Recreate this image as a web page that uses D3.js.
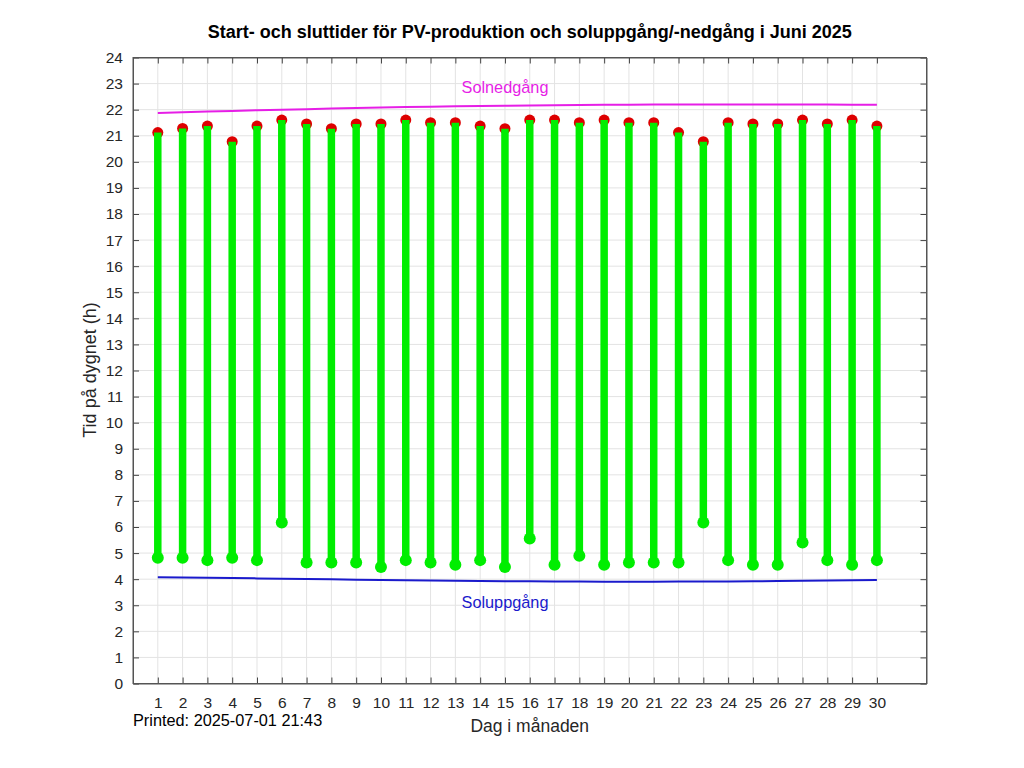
<!DOCTYPE html>
<html><head><meta charset="utf-8">
<script src="https://cdn.jsdelivr.net/npm/d3@7"></script>
<style>
body{margin:0;background:#fff;}
svg{display:block;font-family:"Liberation Sans",Arial,Helvetica,sans-serif;}
</style></head>
<body><svg id="c" width="1024" height="768"></svg>
<script>
const days = d3.range(1, 31);
const startTimes = [4.82,4.82,4.73,4.82,4.73,6.17,4.64,4.64,4.64,4.47,4.73,4.64,4.55,4.73,4.47,5.56,4.55,4.90,4.55,4.64,4.64,4.64,6.17,4.73,4.55,4.55,5.41,4.73,4.55,4.73];
const endTimes = [21.12,21.28,21.37,20.77,21.37,21.60,21.45,21.27,21.45,21.45,21.60,21.50,21.50,21.37,21.27,21.60,21.60,21.50,21.60,21.50,21.50,21.12,20.77,21.50,21.45,21.45,21.60,21.45,21.60,21.37];
const sunset = [21.87,21.90,21.93,21.95,21.98,22.00,22.02,22.04,22.06,22.08,22.10,22.11,22.13,22.14,22.15,22.16,22.17,22.18,22.19,22.19,22.20,22.20,22.20,22.20,22.20,22.20,22.20,22.20,22.19,22.19];
const sunrise = [4.07,4.06,4.05,4.04,4.03,4.02,4.01,4.00,3.98,3.97,3.96,3.95,3.94,3.93,3.92,3.92,3.91,3.91,3.90,3.90,3.90,3.91,3.91,3.91,3.92,3.93,3.94,3.95,3.96,3.97];
const yTicks = d3.range(0, 25);
const title = "Start- och sluttider för PV-produktion och soluppgång/-nedgång i Juni 2025";

const svg = d3.select("#c");
const L = 133, R = 926.5, T = 57.5, B = 683.5;
const x = d3.scaleLinear().domain([0, 32]).range([L, R]);
const y = d3.scaleLinear().domain([0, 24]).range([B, T]);
const FONT = '"Liberation Sans",Arial,sans-serif';

// grid
const g = svg.append("g");
g.selectAll(".vg").data(days).join("line")
  .attr("x1", d => x(d)).attr("x2", d => x(d)).attr("y1", T).attr("y2", B)
  .attr("stroke", "#e3e3e3").attr("stroke-width", 1);
g.selectAll(".hg").data(yTicks).join("line")
  .attr("x1", L).attr("x2", R).attr("y1", d => y(d)).attr("y2", d => y(d))
  .attr("stroke", "#e3e3e3").attr("stroke-width", 1);

// axes
const ax = svg.append("g").attr("transform", `translate(0,${B})`)
  .call(d3.axisBottom(x).tickValues(days).tickSizeInner(-6).tickSizeOuter(0).tickPadding(13));
const ay = svg.append("g").attr("transform", `translate(${L},0)`)
  .call(d3.axisLeft(y).tickValues(yTicks).tickSizeInner(-6).tickSizeOuter(0).tickPadding(10));
const axTop = svg.append("g").attr("transform", `translate(0,${T})`)
  .call(d3.axisTop(x).tickValues(days).tickSizeInner(-6).tickSizeOuter(0).tickFormat(""));
const ayR = svg.append("g").attr("transform", `translate(${R},0)`)
  .call(d3.axisRight(y).tickValues(yTicks).tickSizeInner(-6).tickSizeOuter(0).tickFormat(""));
[ax, ay, axTop, ayR].forEach(a => {
  a.select(".domain").attr("stroke", "#555");
  a.selectAll(".tick line").attr("stroke", "#444");
  a.selectAll("text").attr("fill", "#262626").style("font-size", "15.5px")
    .style("font-family", FONT);
});
ax.selectAll("text").attr("dy", "0.71em");

// frame
svg.append("rect").attr("x", L).attr("y", T).attr("width", R - L).attr("height", B - T)
  .attr("fill", "none").attr("stroke", "#555").attr("stroke-width", 1);

// sun lines
const line = d3.line().x((d, i) => x(days[i])).y(d => y(d));
svg.append("path").datum(sunset).attr("d", line).attr("fill", "none")
  .attr("stroke", "#e61ee6").attr("stroke-width", 2);
svg.append("path").datum(sunrise).attr("d", line).attr("fill", "none")
  .attr("stroke", "#1a1acc").attr("stroke-width", 2);

// red end dots
svg.append("g").selectAll("circle").data(days).join("circle")
  .attr("cx", d => x(d)).attr("cy", (d, i) => y(endTimes[i])).attr("r", 5.5)
  .attr("fill", "#dd0000");
// green stems
svg.append("g").selectAll("line").data(days).join("line")
  .attr("x1", d => x(d)).attr("x2", d => x(d))
  .attr("y1", (d, i) => y(startTimes[i])).attr("y2", (d, i) => y(endTimes[i]))
  .attr("stroke", "#00ee00").attr("stroke-width", 7.5);
svg.append("g").selectAll("circle").data(days).join("circle")
  .attr("cx", d => x(d)).attr("cy", (d, i) => y(startTimes[i])).attr("r", 6)
  .attr("fill", "#00ee00");

// labels
svg.append("text").attr("x", 505).attr("y", 93).attr("text-anchor", "middle")
  .attr("fill", "#e61ee6").style("font-size", "16.3px").text("Solnedgång");
svg.append("text").attr("x", 505).attr("y", 608).attr("text-anchor", "middle")
  .attr("fill", "#1a1acc").style("font-size", "16.3px").text("Soluppgång");

svg.append("text").attr("x", (L + R) / 2).attr("y", 38).attr("text-anchor", "middle")
  .attr("fill", "#000").style("font-size", "18px").style("font-weight", "bold").text(title);
svg.append("text").attr("transform", `translate(96,370) rotate(-90)`)
  .attr("text-anchor", "middle").attr("fill", "#262626").style("font-size", "18px")
  .text("Tid på dygnet (h)");
svg.append("text").attr("x", (L + R) / 2).attr("y", 732).attr("text-anchor", "middle")
  .attr("fill", "#262626").style("font-size", "17.5px").text("Dag i månaden");
svg.append("text").attr("x", L).attr("y", 726).attr("fill", "#000")
  .style("font-size", "16.3px").text("Printed: 2025-07-01 21:43");
</script></body></html>
